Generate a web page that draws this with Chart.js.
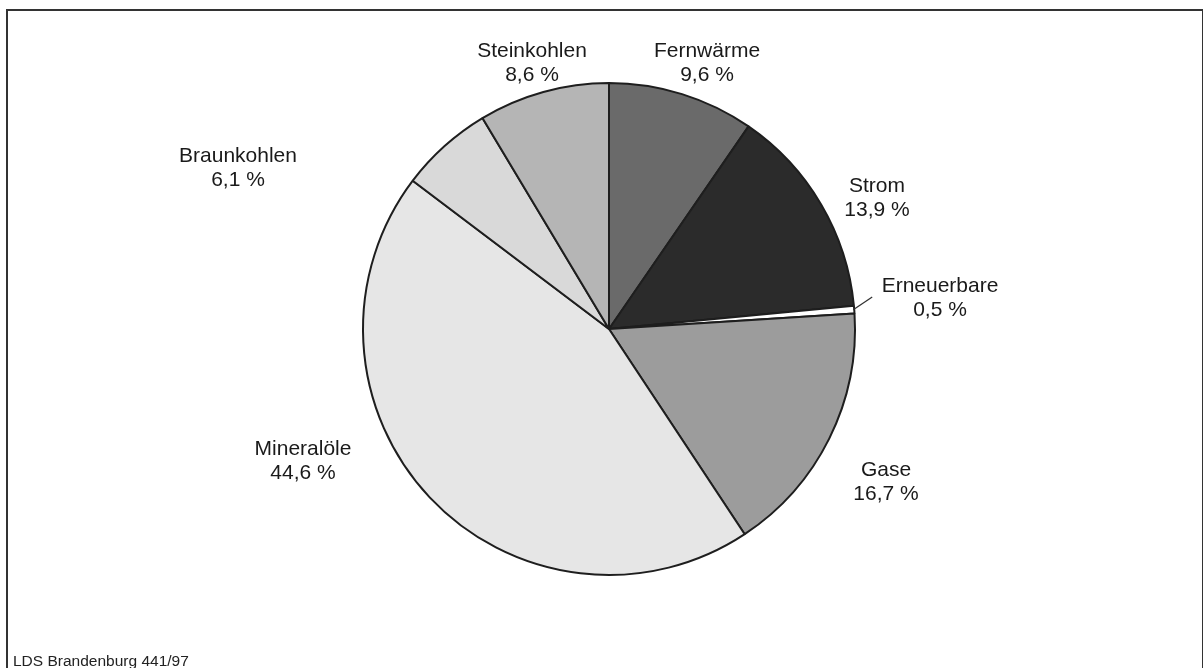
<!DOCTYPE html>
<html>
<head>
<meta charset="utf-8">
<script src="https://cdn.jsdelivr.net/npm/chart.js@4.4.1/dist/chart.umd.min.js"></script>
<style>
  html, body { margin: 0; padding: 0; background: #fff; }
  #wrap { position: relative; width: 1203px; height: 668px; overflow: hidden; }
  #frame { position: absolute; left: 6px; top: 9px; width: 1194px; height: 670px;
           border: 2px solid #333; border-bottom: none; }
  #source { position: absolute; left: 13px; top: 652px; font: 15.5px "Liberation Sans", Arial, sans-serif; color: #222; }
  canvas { position: absolute; left: 0; top: 0; }
</style>
</head>
<body>
<div id="wrap">
  <div id="frame"></div>
  <canvas id="pie-chart" width="1203" height="668"></canvas>
  <div id="source">LDS Brandenburg 441/97</div>
</div>
<script>
let categories = ['Fernwärme', 'Strom', 'Erneuerbare', 'Gase', 'Mineralöle', 'Braunkohlen', 'Steinkohlen'];
let shares = [9.6, 13.9, 0.5, 16.7, 44.6, 6.1, 8.6];
let sliceColors = ['#6a6a6a', '#2b2b2b', '#ffffff', '#9c9c9c', '#e6e6e6', '#d9d9d9', '#b5b5b5'];
// where each label block sits, relative to the pie centre (layout only)
let labelOffsets = [[98, -266], [268, -131], [331, -31], [277, 153], [-306, 132], [-371, -161], [-77, -266]];

const fmt = v => v.toFixed(1).replace('.', ',') + ' %';

const labelPlugin = {
    id: 'sliceLabels',
    afterDatasetsDraw(chart) {
        const ctx = chart.ctx;
        const arcs = chart.getDatasetMeta(0).data;
        ctx.save();
        ctx.font = '21px "Liberation Sans", Arial, sans-serif';
        ctx.fillStyle = '#1a1a1a';
        ctx.textAlign = 'center';
        ctx.textBaseline = 'middle';
        arcs.forEach((arc, i) => {
            const lx = arc.x + labelOffsets[i][0];
            const ly = arc.y + labelOffsets[i][1];
            ctx.fillText(categories[i], lx, ly - 12);
            ctx.fillText(fmt(shares[i]), lx, ly + 12);
        });
        // leader line for the thin slice
        const small = arcs[2];
        const mid = (small.startAngle + small.endAngle) / 2;
        const r = small.outerRadius;
        ctx.strokeStyle = '#333';
        ctx.lineWidth = 1.3;
        ctx.beginPath();
        ctx.moveTo(small.x + Math.cos(mid) * (r - 1), small.y + Math.sin(mid) * (r - 1));
        ctx.lineTo(small.x + Math.cos(mid) * (r + 8) + 10, small.y + Math.sin(mid) * (r + 8) - 12);
        ctx.stroke();
        ctx.restore();
    }
};

const pieChart = new Chart(document.getElementById('pie-chart'), {
    type: 'pie',
    data: {
        labels: categories,
        datasets: [{
            data: shares,
            backgroundColor: sliceColors,
            borderColor: '#1e1e1e',
            borderWidth: 2
        }]
    },
    options: {
        responsive: false,
        animation: false,
        layout: { padding: { top: 82, bottom: 92, left: 15, right: 0 } },
        plugins: {
            legend: { display: false },
            tooltip: { enabled: false }
        }
    },
    plugins: [labelPlugin]
});
</script>
</body>
</html>
